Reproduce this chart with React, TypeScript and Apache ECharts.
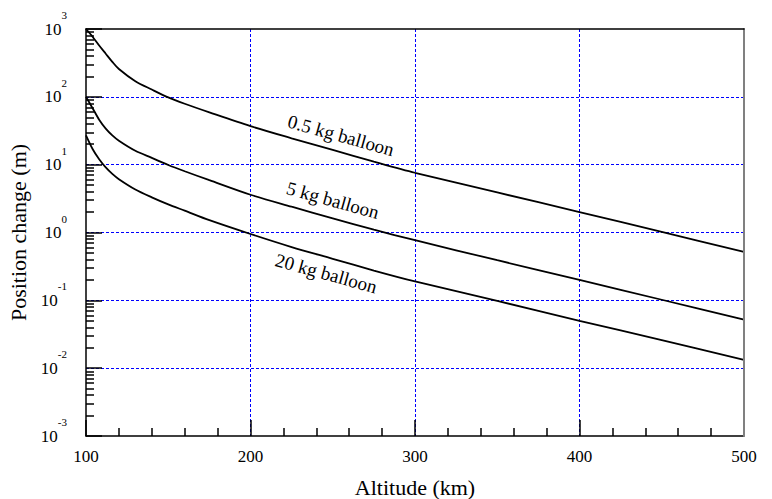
import React, { useEffect, useRef } from "react";
import * as echarts from "echarts";

const altitudes = [100, 104, 108, 112, 116, 120, 130, 140, 150, 160, 175, 200, 225, 250, 275, 300, 350, 400, 450, 500];
const balloon05 = [1000, 770, 570, 432, 328, 257, 170, 128, 98, 79, 59, 37, 24.5, 16.5, 11.1, 7.6, 3.9, 2.0, 1.02, 0.52];
const balloon5 = [100, 68, 46, 34, 27, 22.5, 16, 12.6, 9.9, 8.0, 5.9, 3.6, 2.4, 1.62, 1.1, 0.77, 0.39, 0.2, 0.102, 0.052];
const balloon20 = [27, 17, 12, 9.1, 7.3, 6.1, 4.3, 3.3, 2.6, 2.1, 1.52, 0.95, 0.61, 0.41, 0.275, 0.19, 0.098, 0.05, 0.026, 0.0132];

const seriesNames = ["0.5 kg balloon", "5 kg balloon", "20 kg balloon"];
const labelAltitude = [255, 250, 246];
const labelValue = [27, 3.0, 0.25];

const xTitle = "Altitude (km)";
const yTitle = "Position change (m)";

const FONT = "'Liberation Serif', 'Times New Roman', serif";

export default function App() {
  const ref = useRef<HTMLDivElement>(null);
  useEffect(() => {
    if (!ref.current) return;
    const chart = echarts.init(ref.current, null, { renderer: "svg" });
    const all = [balloon05, balloon5, balloon20];
    const option: any = {
      animation: false,
      backgroundColor: "#fff",
      grid: {
        left: 86,
        right: 28,
        top: 29,
        bottom: 63,
        containLabel: false,
        outerBoundsMode: "none",
        show: false,
      },
      xAxis: [
        {
          type: "value",
          min: 100,
          max: 500,
          interval: 100,
          name: xTitle,
          nameLocation: "middle",
          nameGap: 40,
          nameTextStyle: { fontFamily: FONT, fontSize: 22, color: "#000" },
          axisLine: { show: true, onZero: false, lineStyle: { color: "#000", width: 1.5 } },
          axisTick: { show: true, inside: true, length: 16, lineStyle: { color: "#000", width: 1.5 } },
          minorTick: { show: true, splitNumber: 5, length: 8, lineStyle: { color: "#000", width: 1.5 } },
          axisLabel: { fontFamily: FONT, fontSize: 17, color: "#000", margin: 12 },
          splitLine: {
            show: true,
            showMinLine: false,
            showMaxLine: false,
            lineStyle: { color: "#0000ff", width: 1, type: [3, 2] },
          },
        },
        {
          type: "value",
          min: 100,
          max: 500,
          position: "top",
          axisLine: { show: true, onZero: false, lineStyle: { color: "#000", width: 1.5 } },
          axisTick: { show: false },
          axisLabel: { show: false },
          splitLine: { show: false },
          z: 5,
        },
      ],
      yAxis: [
        {
          type: "log",
          logBase: 10,
          min: 0.001,
          max: 1000,
          splitNumber: 6,
          name: yTitle,
          nameLocation: "middle",
          nameGap: 53,
          nameTextStyle: { fontFamily: FONT, fontSize: 22, color: "#000" },
          axisLine: { show: true, onZero: false, lineStyle: { color: "#000", width: 1.5 } },
          axisTick: { show: true, inside: true, length: 16, lineStyle: { color: "#000", width: 1.5 } },
          minorTick: { show: true, splitNumber: 9, length: 8, lineStyle: { color: "#000", width: 1.5 } },
          axisLabel: {
            margin: 19,
            formatter: (v: number) => {
              const e = Math.round(Math.log10(v));
              return `{b|10}{e|${e}}`;
            },
            rich: {
              b: { fontFamily: FONT, fontSize: 17, color: "#000", lineHeight: 39 },
              e: { fontFamily: FONT, fontSize: 11, color: "#000", lineHeight: 11, verticalAlign: "top" },
            },
          },
          splitLine: {
            show: true,
            showMinLine: false,
            showMaxLine: false,
            lineStyle: { color: "#0000ff", width: 1, type: [3, 2] },
          },
        },
        {
          type: "log",
          logBase: 10,
          min: 0.001,
          max: 1000,
          position: "right",
          axisLine: { show: true, onZero: false, lineStyle: { color: "#808080", width: 2 } },
          axisTick: { show: false },
          axisLabel: { show: false },
          splitLine: { show: false },
          z: 5,
        },
      ],
      series: all.map((vals, i) => ({
        type: "line",
        name: seriesNames[i],
        xAxisIndex: 0,
        yAxisIndex: 0,
        data: altitudes.map((a, j) => [a, vals[j]]),
        showSymbol: false,
        smooth: 0.3,
        lineStyle: { color: "#000", width: 1.8 },
        z: 3,
        markPoint: {
          symbol: "circle",
          symbolSize: 0,
          data: [{ coord: [labelAltitude[i], labelValue[i]] }],
          label: {
            show: true,
            position: "inside",
            formatter: seriesNames[i],
            rotate: -15.5,
            fontFamily: FONT,
            fontSize: 19,
            color: "#000",
          },
        },
      })),
    };
    chart.setOption(option);
    return () => chart.dispose();
  }, []);
  return (
    <div
      ref={ref}
      style={{ position: "fixed", left: 0, top: 0, width: 772, height: 499, background: "#fff" }}
    />
  );
}
